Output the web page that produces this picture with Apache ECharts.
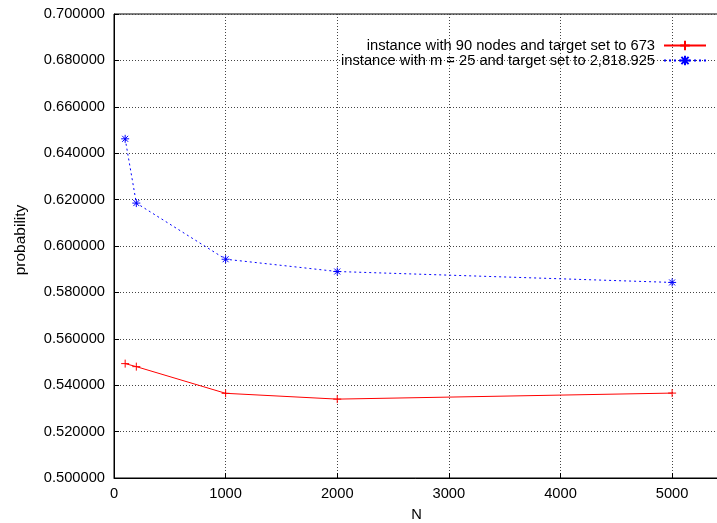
<!DOCTYPE html>
<html><head><meta charset="utf-8">
<script src="https://cdn.jsdelivr.net/npm/echarts@6/dist/echarts.min.js"></script>
<style>html,body{margin:0;padding:0;background:#fff}#c{width:717px;height:523px}</style>
</head><body><div id="c"></div>
<script>
const nValues = [100, 200, 1000, 2000, 5000];
const redValues = [0.5493, 0.5480, 0.5365, 0.5340, 0.5366];
const blueValues = [0.6462, 0.6185, 0.5943, 0.5890, 0.5843];
const redName = 'instance with 90 nodes and target set to 673';
const blueName = 'instance with m = 25 and target set to 2,818.925';
const xTicks = [0, 1000, 2000, 3000, 4000, 5000];

const plus = 'path://M0,-4L0,4M-4,0L4,0';
const star = 'path://M0,-4L0,4M-4,0L4,0M-3,-3L3,3M-3,3L3,-3';
const font = 'Liberation Sans';
const fs = 14.7;
const chart = echarts.init(document.getElementById('c'), null, {renderer: 'canvas'});
chart.setOption({
  animation: false,
  textStyle: {fontFamily: font},
  grid: {left: 114, top: 14, right: -2, bottom: 45, show: true, borderColor: '#000', borderWidth: 1,
    outerBoundsMode: 'none', containLabel: false},
  legend: {
    orient: 'vertical', right: 5, top: 33, align: 'right', itemGap: 0,
    itemWidth: 42, itemHeight: 12,
    textStyle: {fontFamily: font, fontSize: fs, lineHeight: 14, color: '#000', padding: [0, 4, 0, 0]},
    data: [redName, blueName]
  },
  xAxis: {
    type: 'value', min: 0, max: 5420, interval: 1000, name: 'N',
    nameLocation: 'middle', nameGap: 29,
    nameTextStyle: {fontFamily: font, fontSize: fs, color: '#000'},
    axisLine: {show: true, lineStyle: {color: '#000'}},
    axisTick: {show: true, inside: true, length: 5, lineStyle: {color: '#000'}},
    axisLabel: {color: '#000', fontSize: fs, fontFamily: font, margin: 8, showMaxLabel: false,
      formatter: v => xTicks.includes(v) ? String(v) : ''},
    splitLine: {show: true, lineStyle: {color: '#444', type: [1, 2], width: 1}}
  },
  yAxis: {
    type: 'value', min: 0.5, max: 0.7, interval: 0.02, name: 'probability',
    nameLocation: 'middle', nameGap: 85, nameRotate: 90,
    nameTextStyle: {fontFamily: font, fontSize: 15.5, color: '#000', padding: [0, 0, 0, 12]},
    axisLine: {show: true, lineStyle: {color: '#000'}},
    axisTick: {show: true, inside: true, length: 5, lineStyle: {color: '#000'}},
    axisLabel: {color: '#000', fontSize: fs, fontFamily: font, margin: 9,
      formatter: v => v.toFixed(6)},
    splitLine: {show: true, lineStyle: {color: '#444', type: [1, 2], width: 1}}
  },
  series: [
    {
      name: redName, type: 'line', data: nValues.map((n, i) => [n, redValues[i]]),
      symbol: plus, symbolSize: 8, showAllSymbol: true,
      lineStyle: {color: '#ff0000', width: 1},
      itemStyle: {color: 'none', borderColor: '#ff0000', borderWidth: 1}
    },
    {
      name: blueName, type: 'line', data: nValues.map((n, i) => [n, blueValues[i]]),
      symbol: star, symbolSize: 8, showAllSymbol: true,
      lineStyle: {color: '#0000ff', width: 1, type: [2, 3]},
      itemStyle: {color: 'none', borderColor: '#0000ff', borderWidth: 1}
    }
  ]
});
</script></body></html>
